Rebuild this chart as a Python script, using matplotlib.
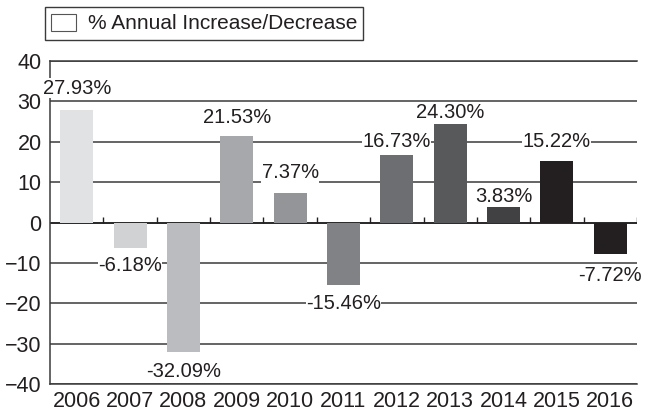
import matplotlib.pyplot as plt
from matplotlib.patches import Patch

plt.rcParams['font.family'] = ['Liberation Sans', 'DejaVu Sans']

years = ['2006', '2007', '2008', '2009', '2010', '2011',
         '2012', '2013', '2014', '2015', '2016']
changes = [27.93, -6.18, -32.09, 21.53, 7.37, -15.46,
           16.73, 24.30, 3.83, 15.22, -7.72]
colors = ['#e1e2e4', '#d1d2d4', '#bbbcbf', '#a7a8ab', '#939598', '#808285',
          '#6d6e71', '#58595b', '#414042', '#231f20', '#231f20']
# how far each value label sits from its bar end (data units)
label_gap = [5.4, -4.5, -4.7, 4.4, 5.0, -4.5, 3.3, 2.9, 2.7, 4.8, -5.3]

fig = plt.figure(figsize=(6.47, 4.15), dpi=100)
ax = fig.add_axes([0.0773, 0.0747, 0.9072, 0.778])

x = range(len(years))
ax.bar(x, changes, width=0.62, color=colors, zorder=3)

# value labels, white box so the grid breaks around them
for i, v in enumerate(changes):
    ax.text(i, v + label_gap[i], f'{v:.2f}%', ha='center', va='center',
            fontsize=14.5, color='#231f20', zorder=4,
            bbox=dict(facecolor='white', edgecolor='none', pad=0.3))

ax.set_xlim(-0.5, len(years) - 0.5)
ax.set_ylim(-40, 40)
ax.set_yticks(range(-40, 41, 10))
ax.set_xticks(list(x))
ax.set_xticklabels(years)
ax.tick_params(axis='both', length=0, labelsize=15.5, colors='#231f20')
ax.tick_params(axis='x', pad=5)
ax.tick_params(axis='y', pad=6)

ax.yaxis.grid(True, color='#3a3a3a', linewidth=1.1, zorder=1)
ax.set_axisbelow(True)
ax.axhline(0, color='#231f20', linewidth=1.2, zorder=2)
# small category dividers on the zero line
ax.vlines([i + 0.5 for i in x], 0, 1.4, color='#231f20', linewidth=1, zorder=2)

for s in ['top', 'bottom', 'left']:
    ax.spines[s].set_color('#3a3a3a')
    ax.spines[s].set_linewidth(1.1)
ax.spines['right'].set_visible(False)

handle = Patch(facecolor='white', edgecolor='#555555', linewidth=0.8)
leg = fig.legend([handle], ['% Annual Increase/Decrease'], loc='upper left',
                 bbox_to_anchor=(0.058, 1.0), fontsize=15, fancybox=False,
                 edgecolor='#3a3a3a', framealpha=1, borderpad=0.3,
                 handlelength=1.2, handleheight=0.9, handletextpad=0.55,
                 borderaxespad=0.35)
leg.get_frame().set_linewidth(1.0)
for t in leg.get_texts():
    t.set_color('#231f20')

fig.savefig('out.png', dpi=100)
